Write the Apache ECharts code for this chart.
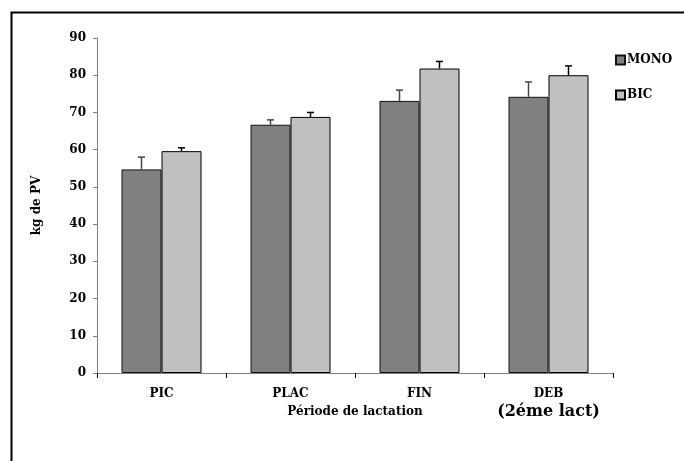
<!DOCTYPE html>
<html>
<head>
<meta charset="utf-8">
<script src="https://cdn.jsdelivr.net/npm/echarts@6/dist/echarts.min.js"></script>
<style>html,body{margin:0;padding:0;background:#fff}#c{width:684px;height:461px}</style>
</head>
<body>
<div id="c"></div>
<script>
var categories = ['PIC', 'PLAC', 'FIN', 'DEB'];
var monoValues = [54.7, 66.7, 73.1, 74.2];
var monoErrors = [3.3, 1.3, 2.9, 4.0];
var bicValues = [59.6, 68.8, 81.8, 80.0];
var bicErrors = [0.9, 1.2, 1.9, 2.5];
var yTicks = [0, 10, 20, 30, 40, 50, 60, 70, 80, 90];

var FONT = 'DejaVu Serif';
var chart = echarts.init(document.getElementById('c'), null, {renderer: 'canvas'});

function errData(vals, errs) {
  return vals.map(function (v, i) { return [i, v + errs[i], v]; });
}
function errSeries(name, vals, errs, offset, color) {
  return {
    name: name, type: 'custom', z: 5,
    data: errData(vals, errs),
    renderItem: function (params, api) {
      var ci = api.value(0);
      var pTop = api.coord([ci, api.value(1)]);
      var pBase = api.coord([ci, api.value(2)]);
      var x = pBase[0] + offset;
      return {
        type: 'group',
        children: [
          {type: 'line', shape: {x1: x, y1: pBase[1], x2: x, y2: pTop[1]}, style: {stroke: color, lineWidth: 1.5}},
          {type: 'line', shape: {x1: x - 3.5, y1: pTop[1], x2: x + 3.5, y2: pTop[1]}, style: {stroke: color, lineWidth: 1.5}}
        ]
      };
    }
  };
}

chart.setOption({
  animation: false,
  backgroundColor: '#fff',
  textStyle: {fontFamily: FONT},
  graphic: [{
    type: 'rect', left: 9, top: 10,
    shape: {x: 0, y: 0, width: 720, height: 520},
    style: {fill: 'none', stroke: '#000', lineWidth: 2}
  }],
  grid: {left: 97, right: 71, top: 38, bottom: 88},
  legend: {
    data: ['MONO', 'BIC'],
    orient: 'vertical',
    left: 610, top: 49,
    itemWidth: 9, itemHeight: 9,
    itemGap: 23,
    icon: 'rect',
    textStyle: {fontFamily: FONT, fontWeight: 'bold', fontSize: 12, color: '#000', padding: [0, 0, 0, -3]}
  },
  xAxis: {
    type: 'category',
    data: categories,
    name: 'Période de lactation',
    nameLocation: 'middle',
    nameGap: 33,
    nameMoveOverlap: false,
    nameTextStyle: {fontFamily: FONT, fontWeight: 'bold', fontSize: 12, color: '#000'},
    axisLine: {lineStyle: {color: '#808080', width: 1}},
    axisTick: {show: true, interval: 0, length: 5, lineStyle: {color: '#000'}},
    axisLabel: {
      interval: 0,
      margin: 14,
      color: '#000',
      fontFamily: FONT, fontWeight: 'bold', fontSize: 12,
      formatter: function (v) {
        if (v === 'DEB') return '{a|DEB}\n{b|(2éme lact)}';
        return '{a|' + v + '}';
      },
      rich: {
        a: {fontFamily: FONT, fontWeight: 'bold', fontSize: 12, color: '#000', lineHeight: 14},
        b: {fontFamily: FONT, fontWeight: 'bold', fontSize: 16, color: '#000', lineHeight: 22}
      }
    }
  },
  yAxis: {
    type: 'value',
    min: 0, max: 90, interval: 10,
    name: 'kg de PV',
    nameLocation: 'middle',
    nameGap: 54,
    nameMoveOverlap: false,
    nameTextStyle: {fontFamily: FONT, fontWeight: 'bold', fontSize: 12, color: '#000'},
    axisLine: {show: true, lineStyle: {color: '#808080', width: 1}},
    axisTick: {show: true, length: 4, lineStyle: {color: '#808080'}},
    splitLine: {show: false},
    axisLabel: {
      margin: 11, color: '#000', fontFamily: FONT, fontWeight: 'bold', fontSize: 12,
      formatter: function (v) { return yTicks.indexOf(v) >= 0 ? String(v) : ''; }
    }
  },
  series: [
    {
      name: 'MONO', type: 'bar', data: monoValues,
      barWidth: 40, barGap: '0%',
      itemStyle: {color: '#808080', borderColor: '#111', borderWidth: 1}
    },
    {
      name: 'BIC', type: 'bar', data: bicValues,
      barWidth: 40, barGap: '0%',
      itemStyle: {color: '#c0c0c0', borderColor: '#000', borderWidth: 1}
    },
    errSeries('errMONO', monoValues, monoErrors, -20, '#444'),
    errSeries('errBIC', bicValues, bicErrors, 20, '#000')
  ]
});
</script>
</body>
</html>
